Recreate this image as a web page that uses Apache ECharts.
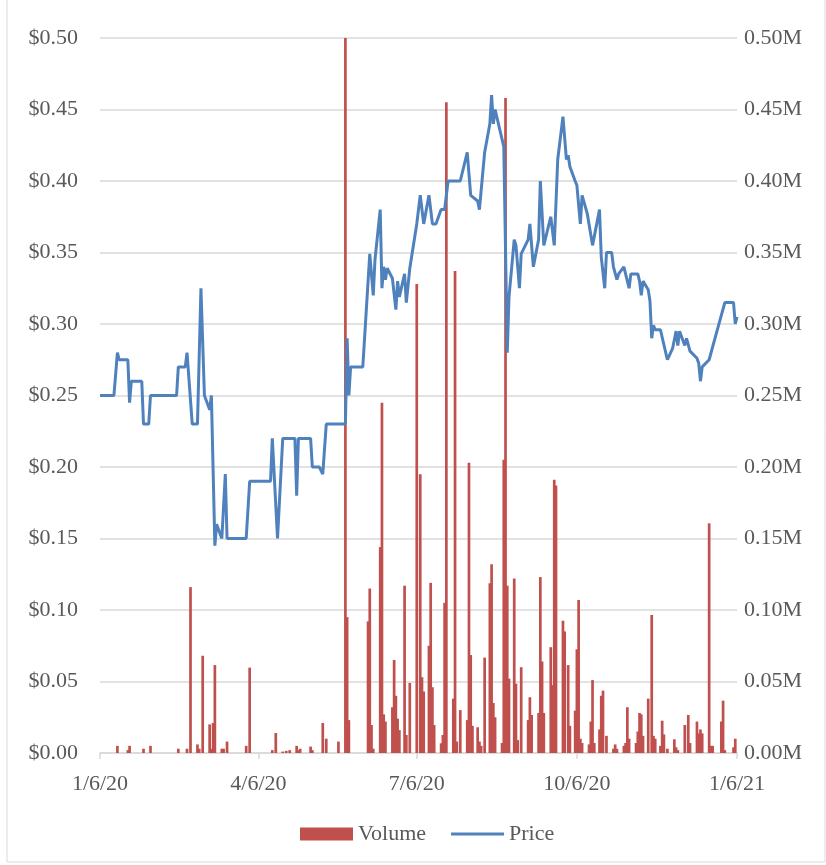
<!DOCTYPE html>
<html>
<head>
<meta charset="utf-8">
<script src="https://cdn.jsdelivr.net/npm/echarts@6/dist/echarts.min.js"></script>
<style>
html,body{margin:0;padding:0;background:#fff;}
#chart{width:826px;height:865px;}
</style>
</head>
<body>
<div id="chart"></div>
<script>
// ---- Data ----
const tickDates = ['2020-01-06','2020-04-06','2020-07-06','2020-10-06','2021-01-06'];
const tickLabels = ['1/6/20','4/6/20','7/6/20','10/6/20','1/6/21'];

const priceDates = [
 '2020-01-06','2020-01-14','2020-01-16','2020-01-17','2020-01-22','2020-01-23','2020-01-24','2020-01-30','2020-01-31','2020-02-03',
 '2020-02-04','2020-02-19','2020-02-20','2020-02-24','2020-02-25','2020-02-28','2020-03-02','2020-03-04','2020-03-06','2020-03-09',
 '2020-03-10','2020-03-12','2020-03-13','2020-03-16','2020-03-18','2020-03-19','2020-03-30','2020-04-01','2020-04-13','2020-04-14',
 '2020-04-15','2020-04-17','2020-04-20','2020-04-27','2020-04-28','2020-04-29','2020-05-06','2020-05-07','2020-05-11','2020-05-13',
 '2020-05-15','2020-05-26','2020-05-27','2020-05-28','2020-05-29','2020-06-05','2020-06-09','2020-06-11','2020-06-12','2020-06-15',
 '2020-06-16','2020-06-17','2020-06-18','2020-06-19','2020-06-22','2020-06-24','2020-06-25','2020-06-26','2020-06-29','2020-06-30',
 '2020-07-01','2020-07-02','2020-07-06','2020-07-08','2020-07-10','2020-07-13','2020-07-15','2020-07-17','2020-07-20','2020-07-22',
 '2020-07-24','2020-07-31','2020-08-04','2020-08-06','2020-08-10','2020-08-11','2020-08-12','2020-08-14','2020-08-17','2020-08-18',
 '2020-08-19','2020-08-20','2020-08-21','2020-08-25','2020-08-27','2020-08-28','2020-08-31','2020-09-01','2020-09-03','2020-09-04',
 '2020-09-08','2020-09-09','2020-09-11','2020-09-14','2020-09-15','2020-09-17','2020-09-21','2020-09-23','2020-09-25','2020-09-28',
 '2020-09-30','2020-10-01','2020-10-02','2020-10-05','2020-10-06','2020-10-08','2020-10-09','2020-10-12','2020-10-15','2020-10-19',
 '2020-10-20','2020-10-22','2020-10-23','2020-10-26','2020-10-27','2020-10-29','2020-10-30','2020-11-02','2020-11-03','2020-11-05',
 '2020-11-06','2020-11-10','2020-11-11','2020-11-12','2020-11-13','2020-11-16','2020-11-17','2020-11-18','2020-11-19','2020-11-20',
 '2020-11-23','2020-11-27','2020-11-30','2020-12-01','2020-12-02','2020-12-03','2020-12-04','2020-12-07','2020-12-08','2020-12-09',
 '2020-12-10','2020-12-14','2020-12-15','2020-12-16','2020-12-17','2020-12-21','2020-12-23','2020-12-24','2020-12-30','2021-01-04',
 '2021-01-05','2021-01-06'
];
const priceValues = [
 0.25,0.25,0.28,0.275,0.275,0.245,0.26,0.26,0.23,0.23,
 0.25,0.25,0.27,0.27,0.28,0.23,0.23,0.325,0.25,0.24,
 0.25,0.145,0.16,0.15,0.195,0.15,0.15,0.19,0.19,0.22,
 0.22,0.15,0.22,0.22,0.18,0.22,0.22,0.20,0.20,0.195,
 0.23,0.23,0.29,0.25,0.27,0.27,0.349,0.32,0.345,0.38,
 0.325,0.34,0.331,0.339,0.332,0.31,0.33,0.319,0.335,0.315,
 0.315,0.339,0.37,0.39,0.37,0.39,0.37,0.37,0.38,0.38,
 0.40,0.40,0.42,0.39,0.386,0.38,0.38,0.42,0.44,0.46,
 0.44,0.45,0.45,0.424,0.28,0.319,0.359,0.355,0.325,0.349,
 0.359,0.37,0.34,0.359,0.40,0.355,0.375,0.355,0.415,0.445,
 0.415,0.418,0.41,0.40,0.397,0.37,0.39,0.377,0.355,0.38,
 0.347,0.325,0.35,0.35,0.34,0.331,0.335,0.34,0.34,0.325,
 0.335,0.335,0.33,0.32,0.33,0.324,0.316,0.29,0.299,0.296,
 0.296,0.275,0.283,0.289,0.295,0.285,0.295,0.285,0.29,0.29,
 0.281,0.276,0.2725,0.26,0.27,0.275,0.284,0.285,0.315,0.315,
 0.30,0.305
];

const volumeDates = [
 '2020-01-16','2020-01-22','2020-01-23','2020-01-31','2020-02-04','2020-02-20','2020-02-25','2020-02-27','2020-03-02','2020-03-03',
 '2020-03-05','2020-03-09','2020-03-10','2020-03-11','2020-03-12','2020-03-16','2020-03-17','2020-03-19','2020-03-30','2020-04-01',
 '2020-04-14','2020-04-16','2020-04-20','2020-04-22','2020-04-24','2020-04-28','2020-04-29','2020-04-30','2020-05-06','2020-05-07',
 '2020-05-13','2020-05-15','2020-05-22','2020-05-26','2020-05-27','2020-05-28','2020-06-08','2020-06-09','2020-06-10','2020-06-11',
 '2020-06-15','2020-06-16','2020-06-17','2020-06-18','2020-06-22','2020-06-23','2020-06-24','2020-06-25','2020-06-26','2020-06-29',
 '2020-06-30','2020-07-02','2020-07-06','2020-07-08','2020-07-09','2020-07-10','2020-07-13','2020-07-14','2020-07-15','2020-07-16',
 '2020-07-20','2020-07-21','2020-07-22','2020-07-23','2020-07-27','2020-07-28','2020-07-29','2020-07-31','2020-08-04','2020-08-05',
 '2020-08-06','2020-08-07','2020-08-10','2020-08-11','2020-08-12','2020-08-14','2020-08-17','2020-08-18','2020-08-19','2020-08-20',
 '2020-08-24','2020-08-25','2020-08-26','2020-08-27','2020-08-28','2020-08-31','2020-09-01','2020-09-02','2020-09-04','2020-09-08',
 '2020-09-09','2020-09-10','2020-09-14','2020-09-15','2020-09-16','2020-09-17','2020-09-21','2020-09-22','2020-09-23','2020-09-24',
 '2020-09-28','2020-09-29','2020-10-01','2020-10-02','2020-10-05','2020-10-06','2020-10-07','2020-10-08','2020-10-09','2020-10-13',
 '2020-10-14','2020-10-15','2020-10-16','2020-10-19','2020-10-20','2020-10-21','2020-10-23','2020-10-27','2020-10-28','2020-10-29',
 '2020-11-02','2020-11-03','2020-11-04','2020-11-05','2020-11-09','2020-11-10','2020-11-11','2020-11-12','2020-11-13','2020-11-16',
 '2020-11-18','2020-11-19','2020-11-20','2020-11-23','2020-11-24','2020-11-25','2020-11-27','2020-12-01','2020-12-02','2020-12-03',
 '2020-12-07','2020-12-09','2020-12-10','2020-12-14','2020-12-15','2020-12-16','2020-12-17','2020-12-21','2020-12-22','2020-12-23',
 '2020-12-28','2020-12-29','2020-12-30','2021-01-04','2021-01-05'
];
// volume in millions
const volumeValues = [
 0.005,0.002,0.005,0.003,0.005,0.003,0.003,0.116,0.006,0.003,
 0.068,0.020,0.003,0.021,0.0615,0.003,0.003,0.008,0.005,0.0597,
 0.002,0.014,0.001,0.0015,0.002,0.005,0.002,0.003,0.0045,0.002,
 0.021,0.010,0.008,0.5,0.095,0.023,0.092,0.115,0.0196,0.003,
 0.144,0.245,0.027,0.022,0.032,0.065,0.04,0.024,0.016,0.117,
 0.0126,0.049,0.328,0.195,0.053,0.043,0.075,0.119,0.046,0.0196,
 0.0068,0.0126,0.105,0.455,0.038,0.337,0.008,0.030,0.023,0.203,
 0.0685,0.019,0.018,0.008,0.005,0.0667,0.1187,0.132,0.035,0.025,
 0.007,0.205,0.458,0.117,0.052,0.122,0.0485,0.009,0.060,0.023,
 0.039,0.0266,0.028,0.123,0.064,0.028,0.074,0.0475,0.191,0.187,
 0.0925,0.085,0.0615,0.019,0.0296,0.0725,0.107,0.010,0.007,0.006,
 0.022,0.051,0.007,0.0165,0.040,0.0436,0.012,0.003,0.006,0.003,
 0.005,0.007,0.032,0.010,0.007,0.015,0.028,0.027,0.012,0.038,
 0.0965,0.012,0.010,0.005,0.0226,0.013,0.003,0.0096,0.004,0.002,
 0.0196,0.0266,0.007,0.022,0.0137,0.0165,0.0137,0.1606,0.005,0.005,
 0.022,0.0366,0.002,0.004,0.010
];

// ---- Build ----
const ts = s => Date.parse(s + 'T00:00:00Z');
const tickTs = tickDates.map(ts);
const priceData = priceDates.map((d, i) => [ts(d), priceValues[i]]);
const volumeData = volumeDates.map((d, i) => [ts(d), volumeValues[i]]);

const FONT = '"Liberation Serif", "Times New Roman", serif';
const TXT = '#595959';
const GRID = '#d9d9d9';

const chart = echarts.init(document.getElementById('chart'));
chart.setOption({
  animation: false,
  backgroundColor: '#fff',
  textStyle: { fontFamily: FONT },
  grid: { left: 100, right: 89, top: 38, bottom: 112, containLabel: false, outerBoundsMode: 'none' },
  graphic: [{
    type: 'rect', silent: true, z: -10,
    shape: { x: 7, y: -2, width: 818, height: 864 },
    style: { fill: 'none', stroke: '#d9d9d9', lineWidth: 1 }
  }],
  legend: {
    data: [
      { name: 'Volume', icon: 'rect' },
      { name: 'Price', icon: 'path://M0,0 L53,0 L53,3 L0,3 Z' }
    ],
    left: 295, top: 818,
    itemWidth: 53, itemHeight: 13, itemGap: 25,
    textStyle: { fontFamily: FONT, fontSize: 22, color: TXT }
  },
  xAxis: {
    type: 'value',
    min: tickTs[0], max: tickTs[tickTs.length - 1],
    axisLine: { show: true, lineStyle: { color: GRID, width: 1.5 } },
    axisTick: { show: true, length: 6, customValues: tickTs, lineStyle: { color: GRID, width: 1.5 } },
    axisLabel: {
      customValues: tickTs,
      margin: 20,
      fontFamily: FONT, fontSize: 22, color: TXT,
      formatter: function (v) {
        let best = 0;
        for (let i = 1; i < tickTs.length; i++) if (Math.abs(tickTs[i] - v) < Math.abs(tickTs[best] - v)) best = i;
        return tickLabels[best];
      }
    },
    splitLine: { show: false }
  },
  yAxis: [{
    type: 'value', min: 0, max: 0.5, interval: 0.05,
    axisLine: { show: false }, axisTick: { show: false },
    axisLabel: { margin: 22, fontFamily: FONT, fontSize: 22, color: TXT, formatter: v => '$' + v.toFixed(2) },
    splitLine: { show: true, lineStyle: { color: GRID, width: 1.5 } }
  }, {
    type: 'value', min: 0, max: 0.5, interval: 0.05, position: 'right',
    axisLine: { show: false }, axisTick: { show: false },
    axisLabel: { margin: 7, fontFamily: FONT, fontSize: 22, color: TXT, formatter: v => v.toFixed(2) + 'M' },
    splitLine: { show: false }
  }],
  series: [{
    name: 'Volume', type: 'bar', yAxisIndex: 1,
    data: volumeData, barWidth: 2.7, z: 2,
    itemStyle: { color: '#C0504D' }
  }, {
    name: 'Price', type: 'line', yAxisIndex: 0,
    data: priceData, symbol: 'none', showSymbol: false, z: 3,
    lineStyle: { color: '#4F81BD', width: 3 },
    itemStyle: { color: '#4F81BD' }
  }]
});
</script>
</body>
</html>
